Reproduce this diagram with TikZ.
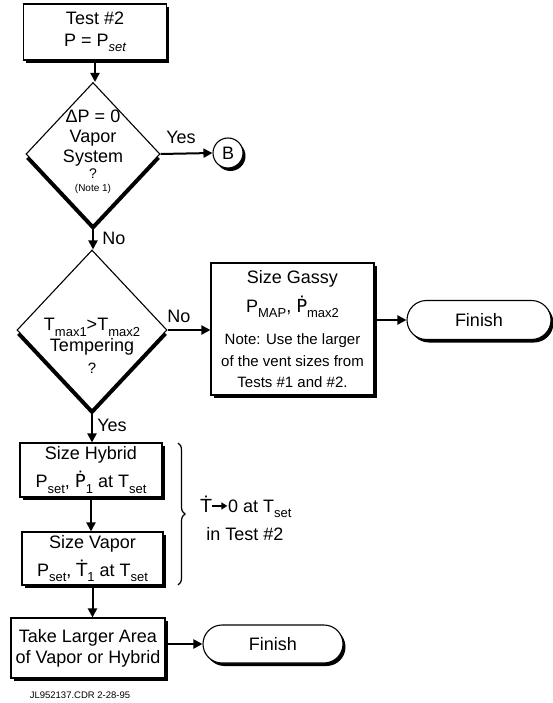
\documentclass[tikz,border=0pt]{standalone}
\usepackage{fontspec}
\setmainfont{Liberation Sans}
\newfontfamily\dvfont{DejaVu Sans}
\usetikzlibrary{shapes.geometric,shapes.misc,arrows.meta,shadows,decorations.pathreplacing}
\newcommand\Pdot{{\dvfont Ṗ}}
\newcommand\Tdot{{\dvfont Ṫ}}
\newcommand\sbs[1]{\raisebox{-0.3em}{\fontsize{13}{13}\selectfont #1}}
\newcommand\inarrow{\tikz[baseline=-6.5pt]\draw[line width=1.6pt,-{Triangle[length=6pt,width=7pt]}] (0,0) -- (15pt,0);}
\tikzset{
  big/.style={font=\fontsize{18}{20}\selectfont},
  small/.style={font=\fontsize{15}{21.5}\selectfont},
  boxshadow/.style={drop shadow={shadow xshift=2.5pt,shadow yshift=-3pt,fill=black,opacity=1}},
  diashadow/.style={drop shadow={shadow xshift=0pt,shadow yshift=-5pt,fill=black,opacity=1}},
  procbox/.style={draw,line width=1.1pt,fill=white,boxshadow,big,align=center,inner sep=0pt},
  decis/.style={draw,diamond,line width=1.1pt,fill=white,diashadow,inner sep=0pt},
  term/.style={draw,rounded rectangle,line width=1.1pt,fill=white,boxshadow,big,inner sep=0pt},
  conn/.style={line width=2pt,-{Triangle[length=9pt,width=9pt]}},
  lbl/.style={big,inner sep=0pt},
}
\begin{document}
\begin{tikzpicture}[x=1pt,y=-1pt]
\useasboundingbox[fill=white] (0,0) rectangle (552,703);

% top box
\node[procbox,minimum width=143pt,minimum height=56pt] (t) at (95,32) {Test \#2\\[2pt]P = P\sbs{\itshape set}};

% diamond 1
\node[decis,minimum width=134pt,minimum height=143pt] (d1) at (93,154) {};
\node[lbl,align=center] (d1t) at (93,138) {ΔP = 0\\Vapor\\System};
\node[lbl,font=\fontsize{14}{16}\selectfont] (d1q) at (93,174) {?};
\node[lbl,font=\fontsize{10}{12}\selectfont] (d1n) at (93,189) {(Note 1)};

% circle B
\node[draw,circle,line width=1.1pt,fill=white,minimum size=30pt,inner sep=0pt,big,boxshadow] (b) at (228,153) {B};

% diamond 2
\node[decis,minimum width=150pt,minimum height=160pt] (d2) at (92,330) {};
\node[lbl,align=center] (d2t) at (92,337) {T\sbs{max1}>T\sbs{max2}\\[1pt]Tempering};
\node[lbl,font=\fontsize{15}{16}\selectfont] (d2q) at (92,368) {?};

% gassy box
\node[procbox,minimum width=163pt,minimum height=132pt] (g) at (292.5,329) {};
\node[lbl,align=center] (gt) at (292.5,294) {Size Gassy\\[8pt]P\sbs{MAP}, \Pdot\sbs{max2}};
\node[small,align=center,inner sep=0pt] (gn) at (292.5,361) {Note: Use the larger\\of the vent sizes from\\Tests \#1 and \#2.};

% finish 1
\node[term,minimum width=144pt,minimum height=39pt] (f1) at (479,320) {Finish};

% hybrid / vapor / take
\node[procbox,minimum width=142pt,minimum height=54pt] (h) at (91,470) {Size Hybrid\\[7pt]P\sbs{set}, \Pdot\sbs{1} at T\sbs{set}};
\node[procbox,minimum width=141pt,minimum height=53pt] (v) at (92.5,558.5) {Size Vapor\\[7pt]P\sbs{set}, \Tdot\sbs{1} at T\sbs{set}};
\node[procbox,minimum width=154pt,minimum height=60pt] (k) at (88,648) {Take Larger Area\\[1pt]of Vapor or Hybrid};
\node[term,minimum width=140pt,minimum height=38pt] (f2) at (273,644) {Finish};

% connectors
\draw[conn] (t.south) -- (t.south |- d1.north);
\draw[conn] (d1.east) -- (b.west);
\draw[conn] (d1.south) -- (d1.south |- d2.north);
\draw[conn] (d2.east) -- (d2.east -| g.west);
\draw[conn] (g.east |- f1.west) -- (f1.west);
\draw[conn] (d2.south) -- (d2.south |- h.north);
\draw[conn] (h.south) -- (h.south |- v.north);
\draw[conn] (v.south) -- (v.south |- k.north);
\draw[conn] (k.east |- f2.west) -- (f2.west);

% labels
\node[lbl] (yes1) at (181,137) {Yes};
\node[lbl] (no1) at (114,238) {No};
\node[lbl] (no2) at (179,316) {No};
\node[lbl] (yes2) at (112,425) {Yes};

% brace
\coordinate (bt) at (178,443);
\coordinate (bb) at (178,585);
\draw[decorate,decoration={brace,amplitude=7pt},line width=1.2pt] (bt) -- (bb);
\node[lbl] (bx1) at (246,507) {\Tdot\inarrow0 at T\sbs{set}};
\node[lbl] (bx2) at (245,534) {in Test \#2};

% footer
\node[inner sep=0pt,font=\fontsize{9.5}{11}\selectfont] (foot) at (80,695) {JL952137.CDR 2-28-95};
\end{tikzpicture}
\end{document}
